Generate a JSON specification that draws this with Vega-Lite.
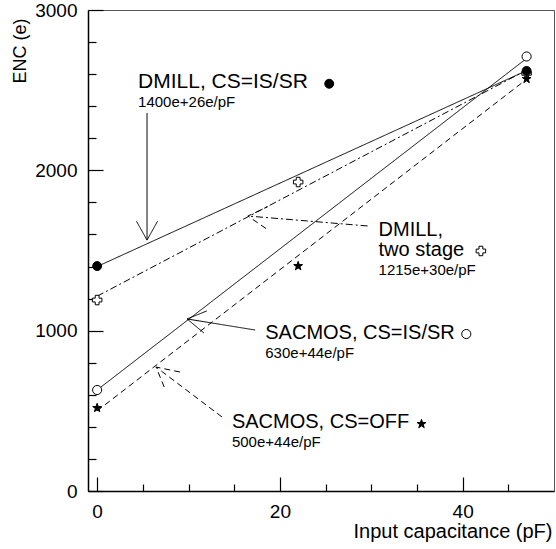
{
  "$schema": "https://vega.github.io/schema/vega-lite/v6.json",
  "width": 466,
  "height": 481,
  "autosize": {"type": "none"},
  "padding": {"left": 88, "top": 10, "right": 2, "bottom": 58},
  "background": "white",
  "config": {
    "view": {"stroke": "#555", "strokeWidth": 1},
    "font": "Liberation Sans",
    "axis": {"domainColor": "black", "domainWidth": 1.5, "tickColor": "black", "tickWidth": 1.2, "labelColor": "black", "titleColor": "black", "labelFont": "Liberation Sans", "titleFont": "Liberation Sans", "labelFontSize": 19, "titleFontWeight": "normal", "grid": false, "labelFlush": false, "labelOverlap": false}
  },
  "resolve": {"axis": {"x": "independent", "y": "independent"}},
  "datasets": {
    "lines": [
      {"g": "fit_dmill", "style": "solid", "o": 0, "x": 0, "y": 1400},
      {"g": "fit_dmill", "style": "solid", "o": 1, "x": 47, "y": 2622},
      {"g": "fit_two", "style": "dashdot", "o": 0, "x": 0, "y": 1215},
      {"g": "fit_two", "style": "dashdot", "o": 1, "x": 47, "y": 2625},
      {"g": "fit_sac", "style": "solid", "o": 0, "x": 0, "y": 630},
      {"g": "fit_sac", "style": "solid", "o": 1, "x": 47, "y": 2698},
      {"g": "fit_off", "style": "dash", "o": 0, "x": 0, "y": 500},
      {"g": "fit_off", "style": "dash", "o": 1, "x": 47, "y": 2568},
      {"g": "a1_shaft", "style": "solid", "o": 0, "x": 5.46, "y": 2358},
      {"g": "a1_shaft", "style": "solid", "o": 1, "x": 5.46, "y": 1565},
      {"g": "a1_head", "style": "solid", "o": 0, "x": 4.31, "y": 1682},
      {"g": "a1_head", "style": "solid", "o": 1, "x": 5.46, "y": 1565},
      {"g": "a1_head", "style": "solid", "o": 2, "x": 6.61, "y": 1682},
      {"g": "a2_shaft", "style": "dashdot", "o": 0, "x": 29.6, "y": 1653},
      {"g": "a2_shaft", "style": "dashdot", "o": 1, "x": 16.5, "y": 1715},
      {"g": "a2_head", "style": "dash", "o": 0, "x": 18.48, "y": 1637},
      {"g": "a2_head", "style": "dash", "o": 1, "x": 16.5, "y": 1715},
      {"g": "a2_head", "style": "dash", "o": 2, "x": 18.68, "y": 1774},
      {"g": "a3_shaft", "style": "solid", "o": 0, "x": 17.3, "y": 1004},
      {"g": "a3_shaft", "style": "solid", "o": 1, "x": 9.84, "y": 1073},
      {"g": "a3_head", "style": "solid", "o": 0, "x": 12.0, "y": 1123},
      {"g": "a3_head", "style": "solid", "o": 1, "x": 9.84, "y": 1073},
      {"g": "a3_head", "style": "solid", "o": 2, "x": 11.7, "y": 985},
      {"g": "a4_shaft", "style": "dash", "o": 0, "x": 13.66, "y": 462},
      {"g": "a4_shaft", "style": "dash", "o": 1, "x": 6.45, "y": 773},
      {"g": "a4_head", "style": "dash", "o": 0, "x": 9.07, "y": 742},
      {"g": "a4_head", "style": "dash", "o": 1, "x": 6.45, "y": 773},
      {"g": "a4_head", "style": "dash", "o": 2, "x": 7.43, "y": 636}
    ],
    "points": [
      {"m": "cross", "x": 0, "y": 1191},
      {"m": "cross", "x": 22, "y": 1927},
      {"m": "cross", "x": 47, "y": 2605},
      {"m": "cross", "x": 42.0, "y": 1497},
      {"m": "star", "x": 0, "y": 518},
      {"m": "star", "x": 22, "y": 1403},
      {"m": "star", "x": 47, "y": 2570},
      {"m": "star", "x": 35.5, "y": 418},
      {"m": "fc", "x": 0, "y": 1403},
      {"m": "fc", "x": 47, "y": 2620},
      {"m": "fc", "x": 25.4, "y": 2540},
      {"m": "oc", "x": 0, "y": 630},
      {"m": "oc", "x": 47, "y": 2710},
      {"m": "oc", "x": 40.4, "y": 979}
    ],
    "texts": [
      {"t": "DMILL, CS=IS/SR", "x": 4.48, "y": 2514, "fs": 21},
      {"t": "1400e+26e/pF", "x": 4.48, "y": 2395, "fs": 15},
      {"t": "DMILL,", "x": 30.8, "y": 1590, "fs": 20},
      {"t": "two stage", "x": 30.8, "y": 1466, "fs": 20},
      {"t": "1215e+30e/pF", "x": 30.8, "y": 1347, "fs": 15},
      {"t": "SACMOS, CS=IS/SR", "x": 18.4, "y": 948, "fs": 20},
      {"t": "630e+44e/pF", "x": 18.4, "y": 830, "fs": 15},
      {"t": "SACMOS, CS=OFF", "x": 14.75, "y": 393, "fs": 20},
      {"t": "500e+44e/pF", "x": 14.75, "y": 274, "fs": 15}
    ]
  },
  "layer": [
    {
      "data": {"name": "lines"},
      "mark": {"type": "line", "color": "black", "strokeWidth": 1},
      "encoding": {
        "x": {"field": "x", "type": "quantitative", "scale": {"domain": [-1, 50], "nice": false, "zero": false},
          "axis": {"orient": "bottom", "values": [0, 20, 40], "format": "d", "tickSize": -14, "labelPadding": 25,
            "title": "Input capacitance (pF)", "titleFontSize": 20, "titleAlign": "right", "titleAnchor": "end", "titleBaseline": "alphabetic", "titleX": 464, "titleY": 46}},
        "y": {"field": "y", "type": "quantitative", "scale": {"domain": [0, 3000], "nice": false, "zero": false},
          "axis": {"orient": "left", "values": [0, 1000, 2000, 3000], "format": "d", "tickSize": -15, "labelPadding": 26,
            "title": "ENC (e)", "titleFontSize": 18, "titleAlign": "right", "titleBaseline": "alphabetic", "titleX": -63, "titleY": 8}},
        "detail": {"field": "g"},
        "order": {"field": "o", "type": "quantitative"},
        "strokeDash": {"field": "style", "type": "nominal", "scale": {"domain": ["solid", "dash", "dashdot"], "range": [[1, 0], [6, 4], [7, 3, 2, 3]]}, "legend": null}
      }
    },
    {
      "data": {"name": "points"},
      "mark": {"type": "point", "filled": true, "stroke": "black", "strokeWidth": 1, "opacity": 1},
      "encoding": {
        "x": {"field": "x", "type": "quantitative",
          "axis": {"orient": "bottom", "values": [5, 10, 15, 25, 30, 35, 45], "tickSize": -7, "labels": false, "domain": false, "title": null}},
        "y": {"field": "y", "type": "quantitative",
          "axis": {"orient": "left", "values": [200, 400, 600, 800, 1200, 1400, 1600, 1800, 2200, 2400, 2600, 2800], "tickSize": -8, "labels": false, "domain": false, "title": null}},
        "shape": {"field": "m", "type": "nominal", "scale": {"domain": ["fc", "oc", "star", "cross"], "range": ["circle", "circle", "M0,-1L0.235,-0.324L0.951,-0.309L0.38,0.124L0.588,0.809L0,0.4L-0.588,0.809L-0.38,0.124L-0.951,-0.309L-0.235,-0.324Z", "cross"]}, "legend": null},
        "fill": {"field": "m", "type": "nominal", "scale": {"domain": ["fc", "oc", "star", "cross"], "range": ["black", "white", "black", "white"]}, "legend": null},
        "size": {"field": "m", "type": "nominal", "scale": {"domain": ["fc", "oc", "star", "cross"], "range": [80, 90, 110, 140]}, "legend": null}
      }
    },
    {
      "data": {"name": "texts"},
      "mark": {"type": "text", "align": "left", "baseline": "alphabetic", "color": "black", "font": "Liberation Sans"},
      "encoding": {
        "x": {"field": "x", "type": "quantitative", "axis": null},
        "y": {"field": "y", "type": "quantitative", "axis": null},
        "text": {"field": "t"},
        "size": {"field": "fs", "type": "quantitative", "scale": null}
      }
    }
  ]
}
